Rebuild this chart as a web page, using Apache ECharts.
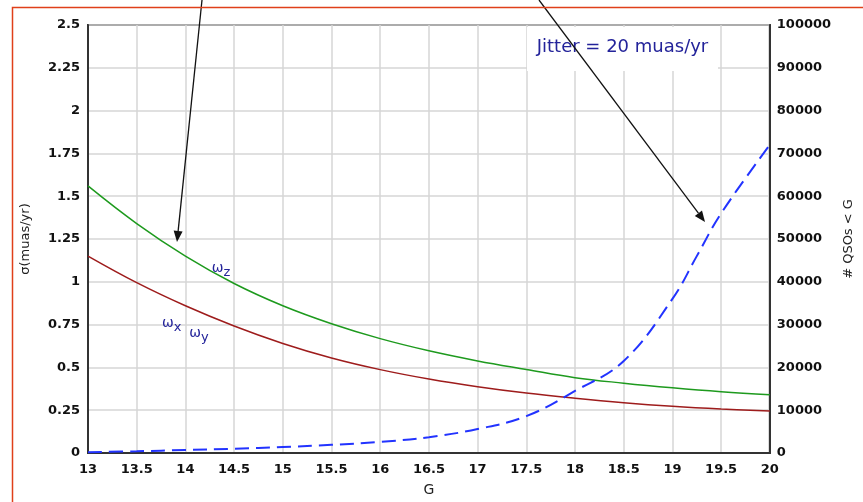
<!DOCTYPE html>
<html><head><meta charset="utf-8">
<script src="https://cdn.jsdelivr.net/npm/echarts@6/dist/echarts.min.js"></script>
<style>html,body{margin:0;padding:0;background:#fff}#c{width:863px;height:502px}</style>
</head><body><div id="c"></div>
<script>
// Data
const magG = [13,13.5,14,14.5,15,15.5,16,16.5,17,17.5,18,18.5,19,19.5,20];
const sigmaZ = [1.56,1.34,1.15,0.99,0.86,0.755,0.668,0.597,0.538,0.488,0.44,0.408,0.381,0.358,0.34];
const sigmaXY = [1.15,0.995,0.86,0.742,0.64,0.555,0.487,0.432,0.387,0.35,0.32,0.294,0.273,0.257,0.245];
const qsoG = [13,13.5,14,14.5,15,15.5,16,16.5,17,17.5,18,18.5,19,19.25,19.5,20];
const qsoCount = [200,400,700,1000,1400,1900,2600,3700,5600,8600,14500,21500,36000,46000,56000,72000];
const leftTicks = ['0','0.25','0.5','0.75','1','1.25','1.5','1.75','2','2.25','2.5'];

const FONT = 'DejaVu Sans, Verdana, sans-serif';
const chart = echarts.init(document.getElementById('c'), null, {renderer:'canvas'});
const tickFont = {fontFamily:FONT, fontWeight:'bold', fontSize:13, color:'#111'};
const gridLine = {show:true, lineStyle:{color:'#d6d6d6', width:1.5}};
const axisLn = {show:true, onZero:false, lineStyle:{color:'#333', width:2}};

chart.setOption({
  animation:false,
  backgroundColor:'#fff',
  grid:{left:88, right:92, top:25, bottom:48, show:true, borderColor:'#333', borderWidth:2, backgroundColor:'transparent'},
  xAxis:{type:'value', min:13, max:20, interval:0.5,
    name:'G', nameLocation:'middle', nameGap:30,
    nameTextStyle:{fontFamily:FONT, fontSize:14, color:'#222'},
    axisLine:axisLn, axisTick:{show:false}, splitLine:gridLine,
    axisLabel:Object.assign({margin:10, formatter:v=>String(v)}, tickFont)},
  yAxis:[
    {type:'value', min:0, max:2.5, interval:0.25, position:'left',
      name:'σ(muas/yr)', nameLocation:'middle', nameGap:56, nameRotate:90,
      nameTextStyle:{fontFamily:FONT, fontSize:13, color:'#222'},
      axisLine:axisLn, axisTick:{show:false}, splitLine:gridLine,
      axisLabel:Object.assign({margin:8, formatter:(v)=>{const i=Math.round(v/0.25);return leftTicks[i]!==undefined?leftTicks[i]:String(v);}}, tickFont)},
    {type:'value', min:0, max:100000, interval:10000, position:'right',
      name:'# QSOs < G', nameLocation:'middle', nameGap:72, nameRotate:90,
      nameTextStyle:{fontFamily:FONT, fontSize:13, color:'#222'},
      axisLine:axisLn, axisTick:{show:false}, splitLine:{show:false},
      axisLabel:Object.assign({margin:7, formatter:v=>String(v)}, tickFont)}
  ],
  series:[
    {type:'line', name:'ωz', yAxisIndex:0, data:magG.map((g,i)=>[g,sigmaZ[i]]), smooth:0.4, symbol:'none',
      lineStyle:{color:'#1e9a1e', width:1.5}},
    {type:'line', name:'ωxy', yAxisIndex:0, data:magG.map((g,i)=>[g,sigmaXY[i]]), smooth:0.4, symbol:'none',
      lineStyle:{color:'#9e1c1c', width:1.5}},
    {type:'line', name:'QSOs', yAxisIndex:1, data:qsoG.map((g,i)=>[g,qsoCount[i]]), smooth:0.4, symbol:'none',
      lineStyle:{color:'#2233ff', width:2, type:[14,7]}}
  ]
});

function px(x,y,axis){return chart.convertToPixel({xAxisIndex:0,yAxisIndex:axis||0},[x,y]);}
function arrow(x1,y1,x2,y2){
  const ang=Math.atan2(y2-y1,x2-x1), L=11, W=4.5;
  const bx=x2-L*Math.cos(ang), by=y2-L*Math.sin(ang);
  const nx=-Math.sin(ang), ny=Math.cos(ang);
  return [
    {type:'line', shape:{x1:x1,y1:y1,x2:bx,y2:by}, style:{stroke:'#111', lineWidth:1.3}, z:100},
    {type:'polygon', shape:{points:[[x2,y2],[bx+nx*W,by+ny*W],[bx-nx*W,by-ny*W]]}, style:{fill:'#111'}, z:100}
  ];
}
const lblStyle = {fontFamily:FONT, fontSize:14, fill:'#23239a'};
const pZ = px(14.27,1.08), pX = px(13.76,0.76), pY = px(14.04,0.7);
const box = [527,27,191,44];
const sub = {s:{fontFamily:FONT, fontSize:13, fill:'#23239a', padding:[9,0,0,0]}};
chart.setOption({graphic:[
  {type:'rect', shape:{x:box[0],y:box[1],width:box[2],height:box[3]}, style:{fill:'#fff'}, z:50},
  {type:'text', x:box[0]+box[2]/2, y:box[1]+box[3]/2-2, style:{text:'Jitter = 20 muas/yr', fontFamily:FONT, fontSize:18, fill:'#23239a', align:'center', verticalAlign:'middle'}, z:60},
  {type:'text', x:pZ[0], y:pZ[1], style:{text:'ω{s|z}', rich:sub, ...lblStyle, verticalAlign:'middle'}, z:60},
  {type:'text', x:pX[0], y:pX[1], style:{text:'ω{s|x}', rich:sub, ...lblStyle, verticalAlign:'middle'}, z:60},
  {type:'text', x:pY[0], y:pY[1], style:{text:'ω{s|y}', rich:sub, ...lblStyle, verticalAlign:'middle'}, z:60},
  ...arrow(202,0,177,242),
  ...arrow(539,0,705,222),
  {type:'rect', shape:{x:12.5,y:7.5,width:900,height:600}, style:{fill:'none', stroke:'#e0401a', lineWidth:1.5}, z:100}
]});
</script></body></html>
